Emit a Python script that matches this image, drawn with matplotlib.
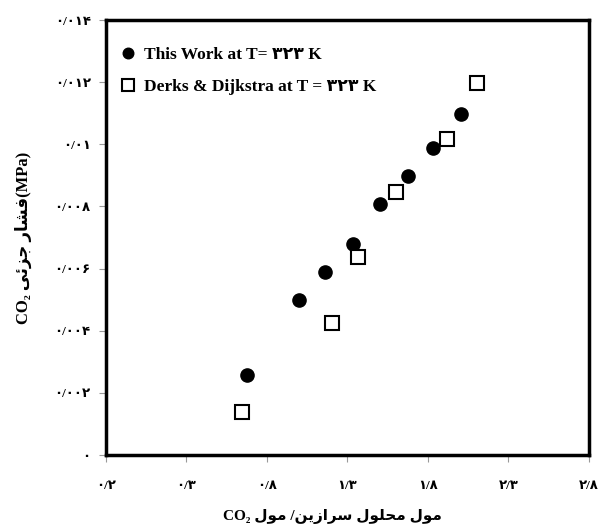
import matplotlib
matplotlib.use("Agg")
import matplotlib.pyplot as plt

# داده های خوانده شده از نمودار
this_work_x = [0.674, 1.001, 1.162, 1.332, 1.504, 1.674, 1.833, 2.003]
this_work_y = [0.00257, 0.00499, 0.00588, 0.00678, 0.00807, 0.00897, 0.00987, 0.01098]
derks_x = [0.647, 1.202, 1.363, 1.603, 1.916, 2.104]
derks_y = [0.00139, 0.00426, 0.00638, 0.00847, 0.01018, 0.01196]

x_ticks = [-0.2, 0.3, 0.8, 1.3, 1.8, 2.3, 2.8]
x_tick_labels = ["۰/۲", "۰/۳", "۰/۸", "۱/۳", "۱/۸", "۲/۳", "۲/۸"]
y_ticks = [0, 0.002, 0.004, 0.006, 0.008, 0.010, 0.012, 0.014]
y_tick_labels = ["۰", "۰/۰۰۲", "۰/۰۰۴", "۰/۰۰۶", "۰/۰۰۸", "۰/۰۱", "۰/۰۱۲", "۰/۰۱۴"]

label_this = "This Work at T= ۳۲۳ K"
label_derks = "Derks & Dijkstra at T = ۳۲۳ K"

# فرم های نمایشی حروف (تنها، پایانی، آغازی، میانی)
FORMS = {
    'ا': ('\uFE8D', '\uFE8E', None, None),
    'ر': ('\uFEAD', '\uFEAE', None, None),
    'ز': ('\uFEAF', '\uFEB0', None, None),
    'و': ('\uFEED', '\uFEEE', None, None),
    'ح': ('\uFEA1', '\uFEA2', '\uFEA3', '\uFEA4'),
    'ج': ('\uFE9D', '\uFE9E', '\uFE9F', '\uFEA0'),
    'س': ('\uFEB1', '\uFEB2', '\uFEB3', '\uFEB4'),
    'ش': ('\uFEB5', '\uFEB6', '\uFEB7', '\uFEB8'),
    'ف': ('\uFED1', '\uFED2', '\uFED3', '\uFED4'),
    'ل': ('\uFEDD', '\uFEDE', '\uFEDF', '\uFEE0'),
    'م': ('\uFEE1', '\uFEE2', '\uFEE3', '\uFEE4'),
    'ن': ('\uFEE5', '\uFEE6', '\uFEE7', '\uFEE8'),
    'ئ': ('\uFE89', '\uFE8A', '\uFE8B', '\uFE8C'),
    'ی': ('\uFEEF', '\uFEF0', '\uFEF3', '\uFEF4'),
}


def rtl(text):
    # شکل دادن حروف و برگرداندن ترتیب برای نمایش چپ به راست
    out = []
    n = len(text)
    for i, ch in enumerate(text):
        if ch not in FORMS:
            out.append(ch)
            continue
        iso, fin, ini, med = FORMS[ch]
        prev = text[i - 1] if i > 0 else ''
        nxt = text[i + 1] if i < n - 1 else ''
        join_prev = prev in FORMS and FORMS[prev][2] is not None
        join_next = ini is not None and nxt in FORMS
        if join_prev and join_next:
            out.append(med)
        elif join_prev:
            out.append(fin)
        elif join_next:
            out.append(ini)
        else:
            out.append(iso)
    return ''.join(reversed(out))


xlabel = "CO₂ " + rtl("مول محلول سرازین/ مول")
ylabel = "CO₂ " + rtl("فشار جزئی") + "(MPa)"

plt.rcParams['font.family'] = ['Liberation Serif', 'DejaVu Sans']
plt.rcParams['font.weight'] = 'bold'

fig = plt.figure(figsize=(5.99, 5.31), dpi=100)
ax = fig.add_axes([0.177, 0.1431, 0.806, 0.8192])

ax.plot(this_work_x, this_work_y, 'o', color='black', markersize=9.5,
        label=label_this)
ax.plot(derks_x, derks_y, 's', markerfacecolor='white', markeredgecolor='black',
        markeredgewidth=1.5, markersize=10, label=label_derks)

ax.set_xlim(-0.2, 2.8)
ax.set_ylim(0, 0.014)
ax.set_xticks(x_ticks)
ax.set_xticklabels(x_tick_labels)
ax.set_yticks(y_ticks)
ax.set_yticklabels(y_tick_labels)
ax.tick_params(axis='both', direction='out', length=5, color='#999999',
               labelsize=9.5)
ax.tick_params(axis='x', pad=13)
ax.tick_params(axis='y', pad=6)

for s in ax.spines.values():
    s.set_linewidth(2.5)
    s.set_color('black')

ax.set_xlabel(xlabel, fontsize=11, fontweight='bold', labelpad=12)
ax.xaxis.set_label_coords(0.47, -0.125)
ax.set_ylabel(ylabel, fontsize=12, fontweight='bold', labelpad=16)

leg = ax.legend(loc='upper left', bbox_to_anchor=(-0.013, 0.975), frameon=False,
                prop={'size': 12.5, 'weight': 'bold'}, handletextpad=0.25,
                labelspacing=0.95, markerscale=0.8, handlelength=1.4)

fig.savefig("out.png", dpi=100)
